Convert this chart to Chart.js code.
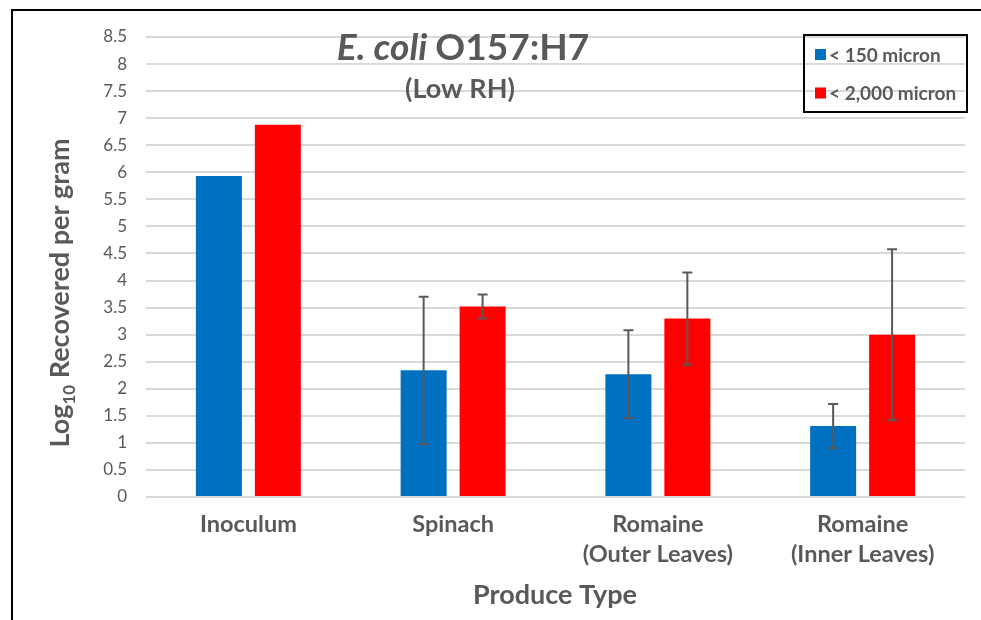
<!DOCTYPE html>
<html><head><meta charset="utf-8">
<script src="https://cdn.jsdelivr.net/npm/chart.js@4.4.1/dist/chart.umd.min.js"></script>
<style>
html,body{margin:0;padding:0;background:#fff;}
#wrap{position:relative;width:981px;height:620px;overflow:hidden;}
#frame{position:absolute;left:11px;top:9px;right:-10px;bottom:-10px;border-left:2px solid #000;border-top:2px solid #000;}
canvas{position:absolute;left:0;top:0;}
</style></head><body>
<div id="wrap"><div id="frame"></div><canvas id="c" width="981" height="620"></canvas></div>
<script>
// ---- data ----
const categories = [['Inoculum'], ['Spinach'], ['Romaine', '(Outer Leaves)'], ['Romaine', '(Inner Leaves)']];
const seriesNames = ['< 150 micron', '< 2,000 micron'];
const small150 = [5.93, 2.34, 2.27, 1.31];
const large2000 = [6.88, 3.52, 3.30, 3.00];
const small150Err = [null, 1.36, 0.81, 0.41];
const large2000Err = [null, 0.22, 0.85, 1.58];
const yTicks = [0, 0.5, 1, 1.5, 2, 2.5, 3, 3.5, 4, 4.5, 5, 5.5, 6, 6.5, 7, 7.5, 8, 8.5];
const yTickLabels = ['0', '0.5', '1', '1.5', '2', '2.5', '3', '3.5', '4', '4.5', '5', '5.5', '6', '6.5', '7', '7.5', '8', '8.5'];

const TXT = '#595959';
const FONT = 'Lato';

const errorBars = {
  id: 'errorBars',
  afterDatasetsDraw(chart) {
    const ctx = chart.ctx, ys = chart.scales.y;
    ctx.save();
    ctx.strokeStyle = '#595959';
    ctx.lineWidth = 2;
    chart.data.datasets.forEach((ds, di) => {
      const meta = chart.getDatasetMeta(di);
      meta.data.forEach((bar, i) => {
        const e = ds.errors[i];
        if (e == null) return;
        const v = ds.data[i];
        const yt = ys.getPixelForValue(v + e), yb = ys.getPixelForValue(v - e);
        const x = bar.x;
        ctx.beginPath();
        ctx.moveTo(x, yt); ctx.lineTo(x, yb);
        ctx.moveTo(x - 5, yt); ctx.lineTo(x + 5, yt);
        ctx.moveTo(x - 5, yb); ctx.lineTo(x + 5, yb);
        ctx.stroke();
      });
    });
    ctx.restore();
  }
};

const texts = {
  id: 'texts',
  afterDraw(chart) {
    const ctx = chart.ctx;
    ctx.save();
    ctx.fillStyle = TXT;
    ctx.textBaseline = 'alphabetic';
    // title
    const fi = 'italic bold 37px ' + FONT, fb = 'bold 37px ' + FONT;
    ctx.font = fi; const w1 = ctx.measureText('E. coli ').width;
    ctx.font = fb; const w2 = ctx.measureText('O157:H7').width;
    const x0 = 463 - (w1 + w2) / 2;
    ctx.textAlign = 'left';
    ctx.font = fi; ctx.fillText('E. coli ', x0, 60);
    ctx.font = fb; ctx.fillText('O157:H7', x0 + w1, 60);
    ctx.font = 'bold 27px ' + FONT; ctx.textAlign = 'center';
    ctx.fillText('(Low RH)', 460, 98);
    // x axis title
    ctx.font = 'bold 27px ' + FONT;
    ctx.fillText('Produce Type', 555, 604);
    // y axis title
    ctx.save();
    ctx.translate(69, 293);
    ctx.rotate(-Math.PI / 2);
    const fA = 'bold 27px ' + FONT, fS = 'bold 17px ' + FONT;
    ctx.font = fA; const a = ctx.measureText('Log').width;
    ctx.font = fS; const s = ctx.measureText('10').width;
    ctx.font = fA; const r = ctx.measureText(' Recovered per gram').width;
    let x = -(a + s + r) / 2;
    ctx.textAlign = 'left';
    ctx.font = fA; ctx.fillText('Log', x, 0); x += a;
    ctx.font = fS; ctx.fillText('10', x, 6); x += s;
    ctx.font = fA; ctx.fillText(' Recovered per gram', x, 0);
    ctx.restore();
    // legend
    ctx.strokeStyle = '#000'; ctx.lineWidth = 2;
    ctx.strokeRect(804, 35, 163, 77);
    const rows = [54.5, 93];
    ctx.font = 'bold 19px ' + FONT; ctx.textBaseline = 'middle'; ctx.textAlign = 'left';
    chart.data.datasets.forEach((ds, i) => {
      ctx.fillStyle = ds.backgroundColor;
      ctx.fillRect(815, rows[i] - 5.5, 11, 11);
      ctx.fillStyle = TXT;
      ctx.fillText(ds.label, 829, rows[i] + 1);
    });
    ctx.restore();
  }
};

new Chart(document.getElementById('c'), {
  type: 'bar',
  data: {
    labels: categories,
    datasets: [
      { label: seriesNames[0], data: small150, errors: small150Err, backgroundColor: '#0070C0' },
      { label: seriesNames[1], data: large2000, errors: large2000Err, backgroundColor: '#FF0000' }
    ]
  },
  options: {
    responsive: false,
    animation: false,
    devicePixelRatio: 1,
    layout: { padding: { left: 0, right: 16, top: 37, bottom: 0 } },
    datasets: { bar: { categoryPercentage: 0.576, barPercentage: 0.78 } },
    plugins: { legend: { display: false }, title: { display: false }, tooltip: { enabled: false } },
    scales: {
      x: {
        grid: { display: false, drawTicks: false },
        border: { display: false },
        ticks: { color: TXT, font: { family: FONT, size: 23.5, weight: 'bold', lineHeight: 1.3 }, padding: 12, maxRotation: 0 },
        afterFit(axis) { axis.height = 123; }
      },
      y: {
        min: 0, max: 8.5,
        afterBuildTicks(axis) { axis.ticks = yTicks.map(v => ({ value: v })); },
        grid: { color: '#d9d9d9', lineWidth: 2, drawTicks: false },
        border: { display: false },
        ticks: {
          color: TXT, font: { family: FONT, size: 17 }, padding: 19,
          callback: (v, i) => yTickLabels[i]
        },
        afterFit(axis) { axis.width = 146; }
      }
    }
  },
  plugins: [errorBars, texts]
});
</script>
</body></html>
